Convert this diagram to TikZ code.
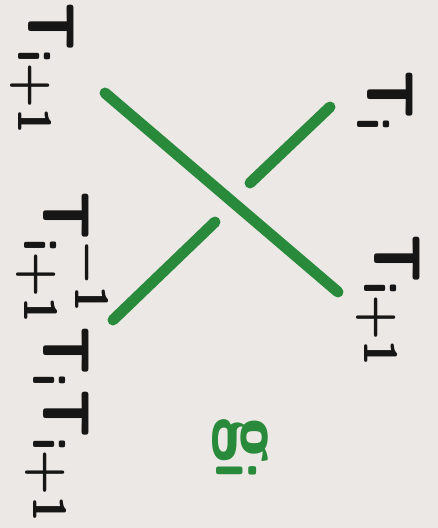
\documentclass[tikz,border=0pt]{standalone}
\usepackage{amsmath,amssymb}
\usepackage{tikz}
\usetikzlibrary{positioning, calc}
\definecolor{paper}{RGB}{236,232,230}
\definecolor{marker}{RGB}{40,138,58}
\definecolor{ink}{RGB}{22,22,22}
\tikzset{strand/.style={draw=marker,line width=11pt,line cap=round},
    tlabel/.style={ink,rotate=-90,inner sep=0pt,scale=6.6,font=\boldmath},
    glabel/.style={tlabel,marker,scale=1.25}}
\newcommand{\Tg}[1]{\mathsf{T}_{\mathsf{#1}}}

\begin{document}
\begin{tikzpicture}[x=1pt,y=-1pt]
    % Paper
    \fill[paper] (0,0) rectangle (438,528);
    \useasboundingbox (0,0) rectangle (438,528);

    % End points of the strands
    \coordinate (over a) at (105,93);
    \coordinate (over b) at (338,292);
    \coordinate (under a) at (330,107);
    \coordinate (under b) at (250,183);
    \coordinate (under c) at (215,222);
    \coordinate (under d) at (113,320);

    % Crossing: over strand, then the broken under strand
    \draw[strand] (over a) -- (over b);
    \draw[strand] (under a) -- (under b);
    \draw[strand] (under c) -- (under d);

    % Labels (written sideways)
    \node[tlabel] (top left) at (42,70) {$\Tg{i+1}$};
    \node[tlabel] (bottom left) at (62,358) {$\Tg{i+1}^{\mathsf{-1}}\Tg{i}\Tg{i+1}$};
    \node[tlabel] (top right) at (385,102) {$\Tg{i}$};
    \node[tlabel] (bottom right) at (388,302) {$\Tg{i+1}$};
    \node[glabel] (gen) at (240,450) {$\mathsf{g}_{\mathsf{i}}$};
\end{tikzpicture}
\end{document}
